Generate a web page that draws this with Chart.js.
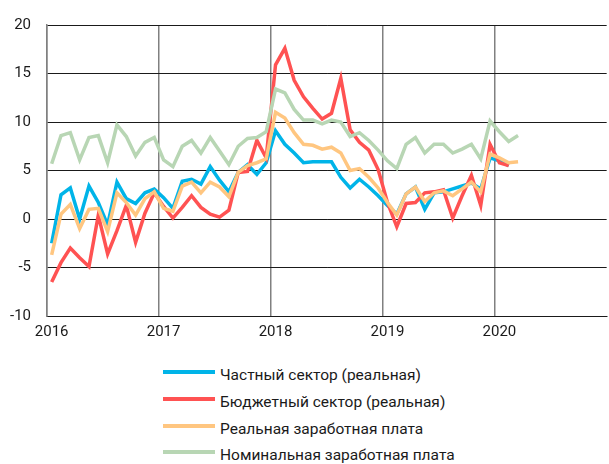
<!DOCTYPE html>
<html>
<head>
    <meta charset="utf-8" />
    <title>Зарплаты</title>
    <script src="https://cdn.jsdelivr.net/npm/chart.js@4.4.1/dist/chart.umd.min.js"></script>
    <style>
      body { margin: 0; background: #fff; }
      #wrap { position: relative; width: 609px; height: 464px; overflow: hidden; }
      #box { position: absolute; left: 0; top: 0; width: 609px; height: 348px; }
      #legend { position: absolute; left: 163px; top: 362px; margin: 0; padding: 0; list-style: none;
        font-family: Roboto, sans-serif; font-size: 15.5px; color: #1a1a1a; }
      #legend li { height: 26.7px; display: flex; align-items: center; }
      #legend span.sw { display: inline-block; width: 52px; height: 4px; margin-right: 5px; position: relative; top: -3px; }
    </style>
</head>
<body>
  <div id="wrap">
    <div id="box"><canvas id="wageChart"></canvas></div>
    <ul id="legend"></ul>
  </div>
  <script>
    const years = ['2016', '2017', '2018', '2019', '2020'];
    const months = ['01', '02', '03', '04', '05', '06', '07', '08', '09', '10', '11', '12'];
    const categories = years.flatMap(y => months.map(m => y + '-' + m));

    // янв 2016 - фев/мар 2020, % г/г
    const privateReal = [
      -2.5, 2.5, 3.2, 0.0, 3.4, 1.7, -0.6, 3.8, 2.1, 1.6, 2.7, 3.1,
      2.2, 1.1, 3.9, 4.1, 3.6, 5.4, 4.0, 2.8, 4.8, 5.6, 4.6, 5.8,
      9.1, 7.7, 6.8, 5.8, 5.9, 5.9, 5.9, 4.3, 3.2, 4.1, 3.3, 2.4,
      1.4, 0.5, 2.6, 3.3, 1.0, 2.7, 2.8, 3.1, 3.4, 3.7, 3.1, 6.3,
      6.0, 5.5
    ];
    const publicReal = [
      -6.5, -4.5, -3.0, -4.0, -4.9, 0.4, -3.6, -1.2, 1.4, -2.4, 0.6, 2.7,
      1.3, 0.1, 1.2, 2.4, 1.2, 0.5, 0.2, 0.9, 4.8, 4.9, 8.1, 6.3,
      15.9, 17.6, 14.3, 12.6, 11.4, 10.3, 10.9, 14.5, 9.2, 7.9, 7.1, 5.1,
      1.7, -0.8, 1.6, 1.7, 2.7, 2.8, 3.0, 0.1, 2.4, 4.5, 1.4, 7.7,
      5.8, 5.5
    ];
    const realWage = [
      -3.7, 0.5, 1.5, -1.0, 1.0, 1.1, -1.3, 2.7, 1.7, 0.4, 2.1, 2.8,
      1.1, 0.8, 3.4, 3.8, 2.7, 3.8, 3.3, 2.3, 4.8, 5.5, 5.8, 6.2,
      11.0, 10.4, 8.9, 7.7, 7.6, 7.2, 7.4, 6.8, 5.0, 5.2, 4.3, 3.2,
      1.7, 0.4, 2.6, 3.3, 1.8, 2.7, 2.9, 2.4, 3.1, 3.8, 2.8, 6.7,
      6.3, 5.8, 5.9
    ];
    const nominalWage = [
      5.7, 8.6, 8.9, 6.1, 8.4, 8.6, 5.8, 9.7, 8.5, 6.5, 7.9, 8.4,
      6.1, 5.4, 7.5, 8.1, 6.8, 8.4, 7.0, 5.6, 7.5, 8.3, 8.4, 9.0,
      13.4, 13.0, 11.3, 10.2, 10.2, 9.8, 10.2, 10.0, 8.5, 8.9, 8.1, 7.1,
      6.0, 5.2, 7.7, 8.4, 6.8, 7.7, 7.7, 6.8, 7.2, 7.7, 6.2, 10.1,
      9.0, 8.0, 8.6
    ];
    const yTicks = [-10, -5, 0, 5, 10, 15, 20];

    const seriesNames = [
      'Частный сектор (реальная)',
      'Бюджетный сектор (реальная)',
      'Реальная заработная плата',
      'Номинальная заработная плата'
    ];
    const seriesColors = ['#00b4e8', '#ff5252', '#ffc680', '#b8d6b4'];
    const seriesData = [privateReal, publicReal, realWage, nominalWage];

    const datasets = seriesData.map((d, i) => ({
      label: seriesNames[i],
      data: d,
      borderColor: seriesColors[i],
      backgroundColor: seriesColors[i],
      borderWidth: 3.5,
      pointRadius: 0,
      tension: 0,
      fill: false,
      order: 4 - i
    }));

    const htmlLegend = {
      id: 'htmlLegend',
      afterUpdate(chart) {
        const ul = document.getElementById('legend');
        ul.innerHTML = '';
        chart.data.datasets.forEach(ds => {
          const li = document.createElement('li');
          const sw = document.createElement('span');
          sw.className = 'sw';
          sw.style.background = ds.borderColor;
          li.appendChild(sw);
          li.appendChild(document.createTextNode(ds.label));
          ul.appendChild(li);
        });
      }
    };

    const tickFont = { family: 'Roboto', size: 15 };

    new Chart(document.getElementById('wageChart'), {
      type: 'line',
      data: { labels: categories, datasets: datasets },
      plugins: [htmlLegend],
      options: {
        responsive: true,
        maintainAspectRatio: false,
        animation: false,
        layout: { padding: { left: 0, top: 18, right: 0, bottom: 0 } },
        plugins: {
          legend: { display: false },
          tooltip: { enabled: false }
        },
        scales: {
          x: {
            type: 'category',
            offset: true,
            grid: {
              offset: true,
              drawTicks: false,
              lineWidth: 1.5,
              color: ctx => (ctx.index % 12 === 0 && ctx.index < categories.length) ? '#808080' : 'rgba(0,0,0,0)'
            },
            border: { color: '#1a1a1a', width: 1 },
            ticks: {
              autoSkip: false,
              maxRotation: 0,
              minRotation: 0,
              padding: 7,
              color: '#1a1a1a',
              font: tickFont,
              callback: function (value, index) {
                const lab = categories[index];
                return lab.endsWith('-01') ? lab.slice(0, 4) : '';
              }
            }
          },
          y: {
            min: -10,
            max: 20,
            afterBuildTicks: axis => { axis.ticks = yTicks.map(v => ({ value: v })); },
            afterFit: axis => { axis.width = 47; },
            grid: { color: '#1a1a1a', lineWidth: 1, drawTicks: false },
            border: { color: '#808080', width: 1.5 },
            ticks: {
              padding: 16,
              color: '#1a1a1a',
              font: tickFont
            }
          }
        }
      }
    });
  </script>
</body>
</html>
